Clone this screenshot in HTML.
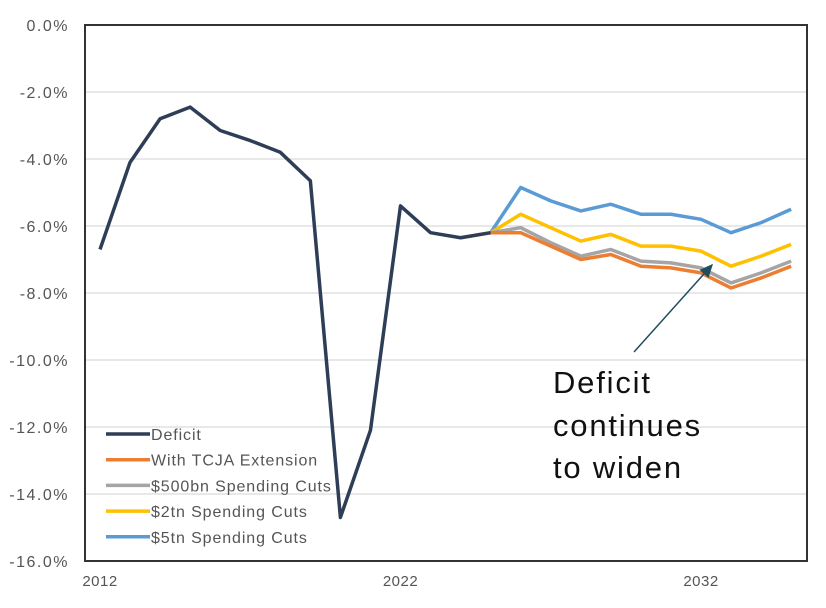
<!DOCTYPE html>
<html><head><meta charset="utf-8"><style>
body{margin:0;background:#fff;}
svg text{font-family:"Liberation Sans",Arial,sans-serif;}
</style></head><body>
<svg id="chart" width="826" height="603" xmlns="http://www.w3.org/2000/svg">
<defs><marker id="ah" markerWidth="10" markerHeight="10" refX="8" refY="5" orient="auto"><path d="M0,1 L9,5 L0,9 z" fill="#1f4e5f"/></marker></defs>
<rect x="85" y="25" width="722" height="536" fill="#fff" stroke="#333" stroke-width="2"/>
<g id="grid"></g><g id="series"></g><g id="legend"></g>
<line x1="634" y1="352" x2="712" y2="265" stroke="#1f4e5f" stroke-width="1.5" marker-end="url(#ah)"/>
<text x="553" y="393" font-size="31" letter-spacing="1.8" fill="#111">Deficit</text>
<text x="553" y="436" font-size="31" letter-spacing="1.8" fill="#111">continues</text>
<text x="553" y="478" font-size="31" letter-spacing="1.8" fill="#111">to widen</text>
</svg>
<script>
const yTicks=[0,-2,-4,-6,-8,-10,-12,-14,-16];
const xTicks=[2012,2022,2032];
const deficitYears=[2012,2013,2014,2015,2016,2017,2018,2019,2020,2021,2022,2023,2024,2025];
const deficit=[-6.7,-4.1,-2.8,-2.45,-3.15,-3.45,-3.8,-4.65,-14.7,-12.1,-5.4,-6.2,-6.35,-6.2];
const projYears=[2024,2025,2026,2027,2028,2029,2030,2031,2032,2033,2034,2035];
const tcja=[-6.35,-6.2,-6.2,-6.6,-7.0,-6.85,-7.2,-7.25,-7.4,-7.85,-7.55,-7.2];
const years2=[2025,2026,2027,2028,2029,2030,2031,2032,2033,2034,2035];
const cuts500=[-6.2,-6.05,-6.5,-6.9,-6.7,-7.05,-7.1,-7.25,-7.7,-7.4,-7.05];
const cuts2tn=[-6.2,-5.65,-6.05,-6.45,-6.25,-6.6,-6.6,-6.75,-7.2,-6.9,-6.55];
const cuts5tn=[-6.2,-4.85,-5.25,-5.55,-5.35,-5.65,-5.65,-5.8,-6.2,-5.9,-5.5];
const seriesNames=["Deficit","With TCJA Extension","$500bn Spending Cuts","$2tn Spending Cuts","$5tn Spending Cuts"];
const NS="http://www.w3.org/2000/svg";
const x=yr=>100+(yr-2012)*30.05;
const y=v=>25+(-v)*33.5;
function mk(t,a,p){const e=document.createElementNS(NS,t);for(const k in a)e.setAttribute(k,a[k]);p.appendChild(e);return e;}
const grid=document.getElementById('grid');
yTicks.forEach(v=>{
  if(v<0&&v>-16){const l=mk('line',{x1:86,x2:806,y1:y(v),y2:y(v),stroke:'#d0d0d0','stroke-width':1},grid);
  
  }
  const t=mk('text',{x:69,y:y(v)+6,'text-anchor':'end','font-size':16,'letter-spacing':1.5,fill:'#555'},grid);t.textContent=v.toFixed(1)+'%';
  
  
});
xTicks.forEach(v=>{const t=mk('text',{x:x(v),y:586,'text-anchor':'middle','font-size':15,'letter-spacing':0.5,fill:'#555'},grid);t.textContent=v;
  
  });
const sg=document.getElementById('series');
const data=[[deficitYears,deficit,'#2e3e57'],[projYears,tcja,'#ed7d31'],[years2,cuts500,'#a5a5a5'],[years2,cuts2tn,'#ffc000'],[years2,cuts5tn,'#5b9bd5']];
[4,3,2,1,0].forEach(i=>{const [xs,vs,c]=data[i];
  const p=mk('polyline',{points:xs.map((yr,j)=>x(yr)+','+y(vs[j])).join(' '),fill:'none',stroke:c,'stroke-width':3.5,'stroke-linejoin':'round'},sg);
  
  });
const lg=document.getElementById('legend');
seriesNames.forEach((n,i)=>{const yy=434+i*25.7;
  const l=mk('line',{x1:106,x2:150,y1:yy,y2:yy,stroke:data[i][2],'stroke-width':3.5},lg);
  
  
  const t=mk('text',{x:151,y:yy+6,'font-size':16,'letter-spacing':0.9,fill:'#555'},lg);t.textContent=n;
  
  });
</script>
</body></html>
